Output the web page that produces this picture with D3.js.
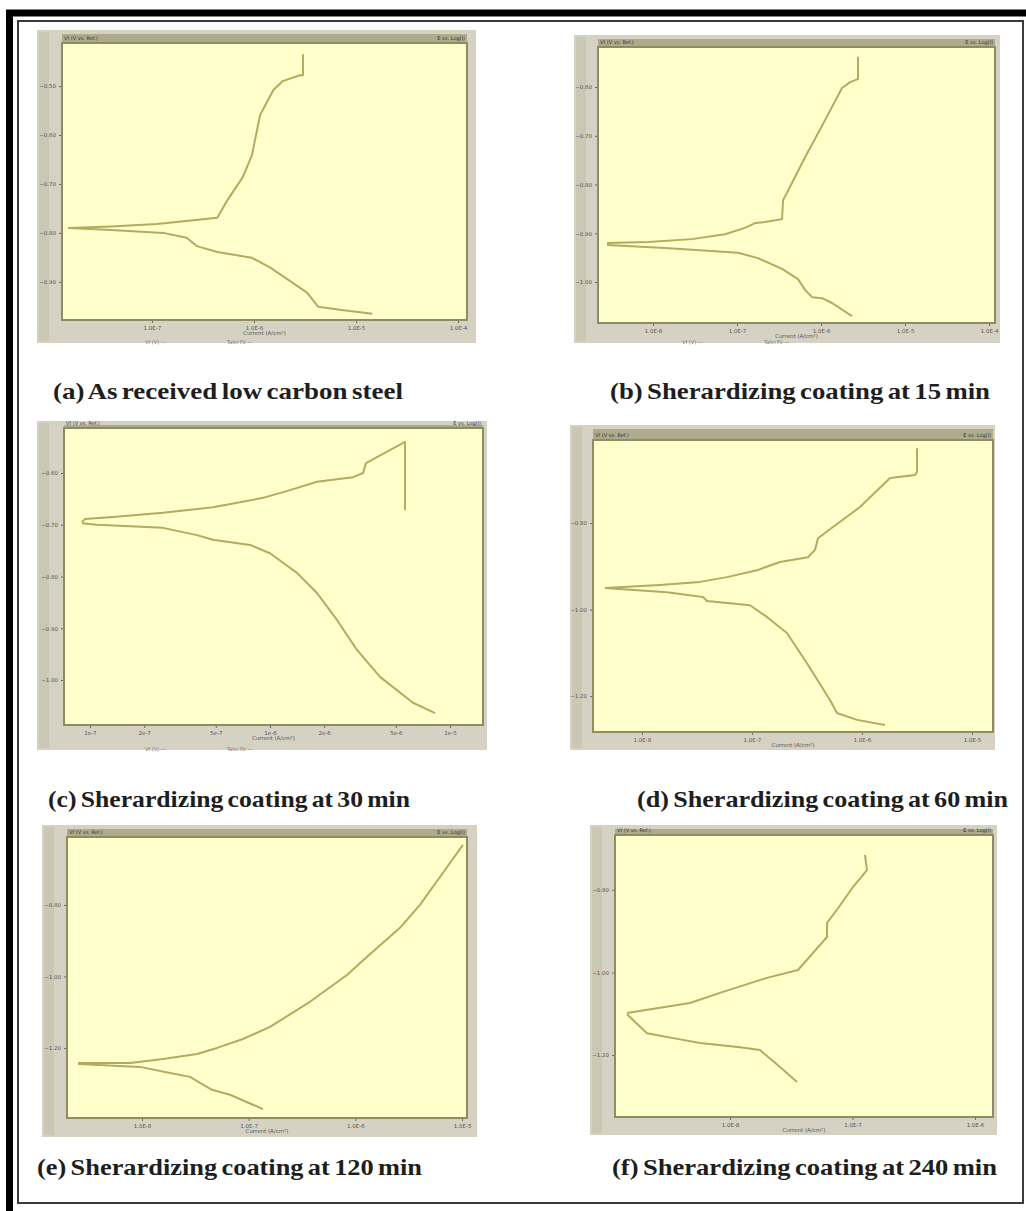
<!DOCTYPE html>
<html>
<head>
<meta charset="utf-8">
<script src="https://cdn.jsdelivr.net/npm/d3@7"></script>
<style>
  body { margin: 0; background: #fff; }
  svg { display: block; }
</style>
</head>
<body>
<svg id="fig" width="1026" height="1211"></svg>
<script>
// Tafel curves: [log10(I), E (V)]
const anodicA = [[-7.82,-0.790],[-7.40,-0.787],[-6.95,-0.782],[-6.36,-0.769],[-6.26,-0.733],[-6.11,-0.686],[-6.02,-0.641],[-5.94,-0.559],[-5.81,-0.508],[-5.72,-0.490],[-5.55,-0.478],[-5.52,-0.478],[-5.52,-0.435]];
const cathodicA = [[-7.82,-0.790],[-7.40,-0.794],[-6.89,-0.800],[-6.66,-0.810],[-6.56,-0.827],[-6.36,-0.839],[-6.02,-0.851],[-5.84,-0.871],[-5.48,-0.922],[-5.37,-0.951],[-5.16,-0.957],[-4.84,-0.965]];

const anodicB = [[-8.548,-0.920],[-8.06,-0.918],[-7.536,-0.912],[-7.143,-0.902],[-6.905,-0.889],[-6.786,-0.879],[-6.667,-0.877],[-6.464,-0.871],[-6.452,-0.832],[-6.405,-0.817],[-6.19,-0.744],[-5.952,-0.668],[-5.75,-0.602],[-5.655,-0.590],[-5.56,-0.584],[-5.56,-0.538]];
const cathodicB = [[-8.548,-0.924],[-7.857,-0.930],[-6.988,-0.940],[-6.75,-0.951],[-6.464,-0.973],[-6.274,-0.994],[-6.19,-1.016],[-6.107,-1.031],[-5.988,-1.033],[-5.869,-1.043],[-5.631,-1.070]];

const anodicC = [[-7.044,-0.695],[-7.028,-0.689],[-6.872,-0.685],[-6.594,-0.677],[-6.317,-0.666],[-6.039,-0.648],[-5.889,-0.633],[-5.739,-0.617],[-5.539,-0.608],[-5.483,-0.600],[-5.467,-0.581],[-5.25,-0.540],[-5.25,-0.672]];
const cathodicC = [[-7.044,-0.697],[-6.961,-0.700],[-6.594,-0.706],[-6.406,-0.720],[-6.317,-0.729],[-6.111,-0.739],[-6.0,-0.755],[-5.85,-0.793],[-5.739,-0.832],[-5.628,-0.884],[-5.517,-0.942],[-5.389,-0.994],[-5.206,-1.044],[-5.083,-1.064]];

const anodicD = [[-8.336,-0.950],[-7.836,-0.943],[-7.473,-0.936],[-7.227,-0.925],[-6.955,-0.909],[-6.745,-0.890],[-6.491,-0.879],[-6.427,-0.862],[-6.4,-0.835],[-6.264,-0.809],[-6.018,-0.763],[-5.745,-0.696],[-5.518,-0.689],[-5.5,-0.682],[-5.5,-0.627]];
const cathodicD = [[-8.336,-0.950],[-7.773,-0.960],[-7.445,-0.971],[-7.409,-0.980],[-7.018,-0.990],[-6.864,-1.017],[-6.682,-1.054],[-6.5,-1.124],[-6.291,-1.209],[-6.227,-1.239],[-6.045,-1.255],[-5.791,-1.267]];

const anodicE = [[-8.6,-1.242],[-8.112,-1.242],[-7.803,-1.231],[-7.485,-1.217],[-7.297,-1.200],[-7.053,-1.175],[-6.8,-1.141],[-6.426,-1.071],[-6.079,-0.996],[-5.891,-0.945],[-5.582,-0.864],[-5.395,-0.800],[-5.179,-0.710],[-4.992,-0.632]];
const cathodicE = [[-8.6,-1.245],[-8.019,-1.253],[-7.738,-1.270],[-7.55,-1.281],[-7.456,-1.298],[-7.344,-1.317],[-7.175,-1.331],[-6.96,-1.359],[-6.866,-1.371]];

const anodicF = [[-8.841,-1.098],[-8.327,-1.074],[-8.057,-1.047],[-7.698,-1.013],[-7.445,-0.994],[-7.265,-0.933],[-7.208,-0.914],[-7.208,-0.880],[-7.127,-0.848],[-6.996,-0.793],[-6.882,-0.752],[-6.898,-0.715]];
const cathodicF = [[-8.841,-1.101],[-8.792,-1.115],[-8.678,-1.147],[-8.465,-1.159],[-8.245,-1.171],[-7.918,-1.181],[-7.755,-1.188],[-7.592,-1.229],[-7.453,-1.265]];

// tick values
const xTicksA = [-7, -6, -5, -4];
const xTicksB = [-8, -7, -6, -5, -4];
const xTicksC = [1e-7, 2e-7, 5e-7, 1e-6, 2e-6, 5e-6, 1e-5];
const xTicksD = [-8, -7, -6, -5];
const xTicksE = [-8, -7, -6, -5];
const xTicksF = [-8, -7, -6];
const yTicksA = [-0.5, -0.6, -0.7, -0.8, -0.9];
const yTicksB = [-0.6, -0.7, -0.8, -0.9, -1.0];
const yTicksC = [-0.6, -0.7, -0.8, -0.9, -1.0];
const yTicksD = [-0.8, -1.0, -1.2];
const yTicksE = [-0.8, -1.0, -1.2];
const yTicksF = [-0.8, -1.0, -1.2];

const captions = [
  "(a) As received low carbon steel",
  "(b) Sherardizing coating at 15 min",
  "(c) Sherardizing coating at 30 min",
  "(d) Sherardizing coating at 60 min",
  "(e) Sherardizing coating at 120 min",
  "(f) Sherardizing coating at 240 min"
];

const svg = d3.select("#fig");

// outer figure border (thick black, thin inner)
svg.append("rect").attr("x", 9.5).attr("y", 13).attr("width", 1040).attr("height", 1230)
  .attr("fill", "none").attr("stroke", "#000").attr("stroke-width", 7);
svg.append("rect").attr("x", 18).attr("y", 21).attr("width", 1005).attr("height", 1182)
  .attr("fill", "none").attr("stroke", "#3a3a3a").attr("stroke-width", 2);

// panel layout: frame box, plot box, axis domains
const panels = [
  { frame: [37, 30, 476, 343], plot: [62, 43, 467, 320], xd: [-7.882, -3.912], yd: [-0.412, -0.978],
    xt: xTicksA, yt: yTicksA, an: anodicA, ca: cathodicA, legend: true },
  { frame: [574, 35, 1000, 343], plot: [598, 47, 995, 323], xd: [-8.655, -3.929], yd: [-0.518, -1.084],
    xt: xTicksB, yt: yTicksB, an: anodicB, ca: cathodicB, legend: true },
  { frame: [37, 421, 487, 750], plot: [64, 428, 483, 725], xd: [-7.144, -4.817], yd: [-0.513, -1.087],
    xt: xTicksC.map(Math.log10), yt: yTicksC, an: anodicC, ca: cathodicC, legend: true, fmt: xTicksC },
  { frame: [570, 425, 995, 750], plot: [593, 440, 993, 732], xd: [-8.445, -4.809], yd: [-0.608, -1.283],
    xt: xTicksD, yt: yTicksD, an: anodicD, ca: cathodicD, legend: false },
  { frame: [42, 825, 477, 1137], plot: [67, 837, 467, 1118], xd: [-8.703, -4.954], yd: [-0.610, -1.396],
    xt: xTicksE, yt: yTicksE, an: anodicE, ca: cathodicE, legend: false },
  { frame: [590, 825, 997, 1135], plot: [615, 835, 993, 1117], xd: [-8.939, -5.853], yd: [-0.667, -1.350],
    xt: xTicksF, yt: yTicksF, an: anodicF, ca: cathodicF, legend: false }
];

const capPos = [[53, 399, 350], [610, 399, 380], [48, 807, 362], [637, 807, 371], [37, 1175, 385], [612, 1175, 385]];

function expLabel(e) {
  return "1.0E" + e;
}

panels.forEach((p, i) => {
  const [fx0, fy0, fx1, fy1] = p.frame;
  const [px0, py0, px1, py1] = p.plot;
  const g = svg.append("g");

  // window frame
  g.append("rect").attr("x", fx0).attr("y", fy0).attr("width", fx1 - fx0).attr("height", fy1 - fy0)
    .attr("fill", "#d6d2c3");
  g.append("rect").attr("x", fx0 + 2).attr("y", fy0 + 2).attr("width", 10).attr("height", fy1 - fy0 - 4)
    .attr("fill", "#cbc7b5");
  // title strip
  g.append("rect").attr("x", px0).attr("y", fy0 + 4).attr("width", px1 - px0).attr("height", py0 - fy0 - 5)
    .attr("fill", "#aeaa8c");
  g.append("text").attr("x", px0 + 2).attr("y", py0 - 3).text("Vf (V vs. Ref.)")
    .attr("font-family", "DejaVu Sans").attr("font-size", 5).attr("fill", "#333");
  g.append("text").attr("x", px1 - 2).attr("y", py0 - 3).attr("text-anchor", "end").text("E vs. Log(I)")
    .attr("font-family", "DejaVu Sans").attr("font-size", 5).attr("fill", "#333");

  // plot area
  g.append("rect").attr("x", px0).attr("y", py0).attr("width", px1 - px0).attr("height", py1 - py0)
    .attr("fill", "#ffffcb").attr("stroke", "#8f8b62").attr("stroke-width", 2);

  const x = d3.scaleLinear().domain(p.xd).range([px0, px1]);
  const y = d3.scaleLinear().domain(p.yd).range([py0, py1]);

  const xAxis = d3.axisBottom(x).tickValues(p.xt).tickSize(2)
    .tickFormat((d, k) => p.fmt ? d3.format(".0e")(p.fmt[k]) : expLabel(d));
  const ax = g.append("g").attr("transform", `translate(0,${py1 + 1})`).call(xAxis);
  const yAxis = d3.axisLeft(y).tickValues(p.yt).tickSize(2).tickFormat(d3.format(".2f"));
  const ay = g.append("g").attr("transform", `translate(${px0 - 1},0)`).call(yAxis);
  [ax, ay].forEach(a => {
    a.select(".domain").remove();
    a.selectAll("line").attr("stroke", "#666");
    a.selectAll("text").attr("font-family", "DejaVu Sans").attr("font-size", 5.5).attr("fill", "#555");
  });

  g.append("text").attr("x", (px0 + px1) / 2).attr("y", py1 + 15).attr("text-anchor", "middle")
    .text("Current (A/cm²)").attr("font-family", "DejaVu Sans").attr("font-size", 5.5).attr("fill", "#555");

  if (p.legend) {
    g.append("text").attr("x", fx0 + 108).attr("y", fy1 + 1).text("Vf (V) —")
      .attr("font-family", "DejaVu Sans").attr("font-size", 5).attr("fill", "#777");
    g.append("text").attr("x", fx0 + 190).attr("y", fy1 + 1).text("Tafel Fit —")
      .attr("font-family", "DejaVu Sans").attr("font-size", 5).attr("fill", "#777");
  }

  const line = d3.line().x(d => x(d[0])).y(d => y(d[1]));
  [p.an, p.ca].forEach(s => {
    g.append("path").datum(s).attr("d", line).attr("fill", "none")
      .attr("stroke", "#b3ab62").attr("stroke-width", 2).attr("stroke-linejoin", "round");
  });

  const [cx, cy, cw] = capPos[i];
  svg.append("text").attr("x", cx).attr("y", cy).text(captions[i])
    .attr("font-family", "'Liberation Serif', 'Times New Roman', serif").attr("font-weight", "bold")
    .attr("font-size", 23).attr("fill", "#1e1e1e").attr("word-spacing", -2)
    .attr("textLength", cw).attr("lengthAdjust", "spacingAndGlyphs");
});
</script>
</body>
</html>
